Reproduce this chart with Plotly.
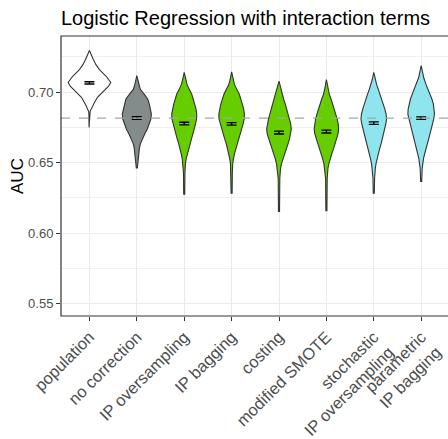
import plotly.graph_objects as go

categories = ["population", "no correction", "IP oversampling", "IP bagging", "costing",
              "modified SMOTE", "stochastic<br>IP oversampling", "parametric<br>IP bagging"]
fill_colors = ["#FFFFFF", "#838B8B", "#66CD00", "#66CD00", "#66CD00", "#66CD00", "#8EE5EE", "#8EE5EE"]

# violin density profiles: AUC levels (top -> bottom) and half-widths (category units)
auc_population = [0.7294, 0.7264, 0.7229, 0.7194, 0.7159, 0.7112, 0.7089, 0.7068, 0.7040, 0.6996,
                  0.6963, 0.6926, 0.6900, 0.6879, 0.6865, 0.6844, 0.6750]
hw_population = [0, 0.032, 0.085, 0.137, 0.211, 0.353, 0.412, 0.45, 0.40, 0.268,
                 0.169, 0.106, 0.063, 0.042, 0.017, 0.011, 0.008]

auc_nocorr = [0.7117, 0.7089, 0.7054, 0.7019, 0.6984, 0.6949, 0.6914, 0.6879, 0.6844, 0.6809,
              0.6774, 0.6739, 0.6704, 0.6668, 0.6633, 0.6598, 0.6563, 0.6528, 0.6463]
hw_nocorr = [0, 0.021, 0.042, 0.074, 0.158, 0.232, 0.264, 0.285, 0.307, 0.296,
             0.264, 0.222, 0.169, 0.116, 0.074, 0.053, 0.038, 0.025, 0.011]

auc_ipover = [0.7140, 0.7089, 0.7054, 0.7019, 0.6984, 0.6949, 0.6914, 0.6879, 0.6844, 0.6809, 0.6774,
              0.6739, 0.6704, 0.6668, 0.6633, 0.6598, 0.6563, 0.6528, 0.6493, 0.6423, 0.6276]
hw_ipover = [0, 0.032, 0.059, 0.106, 0.159, 0.19, 0.222, 0.249, 0.264, 0.26, 0.239,
             0.211, 0.18, 0.148, 0.116, 0.085, 0.063, 0.042, 0.025, 0.015, 0.011]

auc_ipbag = [0.7143, 0.7089, 0.7054, 0.7019, 0.6984, 0.6949, 0.6914, 0.6879, 0.6844, 0.6809, 0.6774,
             0.6739, 0.6704, 0.6668, 0.6633, 0.6598, 0.6563, 0.6528, 0.6493, 0.6423, 0.6283]
hw_ipbag = [0, 0.030, 0.060, 0.110, 0.162, 0.195, 0.228, 0.255, 0.270, 0.266, 0.243,
            0.213, 0.180, 0.146, 0.112, 0.082, 0.060, 0.040, 0.024, 0.015, 0.011]

auc_costing = [0.7077, 0.7019, 0.6984, 0.6949, 0.6914, 0.6879, 0.6844, 0.6809, 0.6774, 0.6739,
               0.6704, 0.6668, 0.6633, 0.6598, 0.6563, 0.6528, 0.6493, 0.6458, 0.6388, 0.6155]
hw_costing = [0, 0.038, 0.063, 0.099, 0.133, 0.165, 0.194, 0.222, 0.247, 0.26,
              0.249, 0.222, 0.19, 0.152, 0.116, 0.08, 0.053, 0.032, 0.017, 0.011]

auc_smote = [0.7089, 0.7019, 0.6984, 0.6949, 0.6914, 0.6879, 0.6844, 0.6809, 0.6774, 0.6739,
             0.6704, 0.6668, 0.6633, 0.6598, 0.6563, 0.6528, 0.6493, 0.6458, 0.6388, 0.6159]
hw_smote = [0, 0.036, 0.062, 0.100, 0.136, 0.170, 0.200, 0.228, 0.250, 0.258,
            0.245, 0.218, 0.186, 0.150, 0.114, 0.080, 0.053, 0.032, 0.017, 0.011]

auc_stoch = [0.7140, 0.7089, 0.7054, 0.7019, 0.6984, 0.6949, 0.6914, 0.6879, 0.6844, 0.6809, 0.6774,
             0.6739, 0.6704, 0.6668, 0.6633, 0.6598, 0.6563, 0.6528, 0.6493, 0.6458, 0.6388, 0.6283]
hw_stoch = [0, 0.032, 0.059, 0.095, 0.133, 0.169, 0.205, 0.233, 0.26, 0.27, 0.254,
            0.233, 0.211, 0.186, 0.154, 0.123, 0.095, 0.07, 0.047, 0.032, 0.017, 0.011]

auc_param = [0.7187, 0.7145, 0.7103, 0.7054, 0.7019, 0.6984, 0.6949, 0.6914, 0.6879, 0.6844, 0.6809,
             0.6774, 0.6739, 0.6704, 0.6668, 0.6633, 0.6598, 0.6563, 0.6528, 0.6493, 0.6458, 0.6367]
hw_param = [0, 0.027, 0.053, 0.101, 0.148, 0.19, 0.228, 0.258, 0.275, 0.281, 0.264,
            0.233, 0.211, 0.186, 0.159, 0.127, 0.101, 0.074, 0.049, 0.032, 0.021, 0.011]

profiles_auc = [auc_population, auc_nocorr, auc_ipover, auc_ipbag, auc_costing, auc_smote, auc_stoch, auc_param]
profiles_hw = [hw_population, hw_nocorr, hw_ipover, hw_ipbag, hw_costing, hw_smote, hw_stoch, hw_param]

means = [0.7065, 0.6816, 0.6777, 0.6775, 0.6713, 0.6720, 0.6780, 0.6815]
se = [0.0008, 0.0009, 0.0009, 0.0009, 0.0010, 0.0010, 0.0009, 0.0009]
reference_auc = 0.6816

fig = go.Figure()
positions = list(range(1, len(categories) + 1))
for pos, a, h, col in zip(positions, profiles_auc, profiles_hw, fill_colors):
    xs = [pos + w for w in h] + [pos - w for w in reversed(h)]
    ys = list(a) + list(reversed(a))
    fig.add_trace(go.Scatter(x=xs, y=ys, mode="lines", fill="toself", fillcolor=col,
                             line=dict(color="#333333", width=1.1), hoverinfo="skip",
                             showlegend=False))

fig.add_trace(go.Scatter(x=positions, y=means, mode="markers",
                         marker=dict(size=1, color="rgba(0,0,0,0)"),
                         error_y=dict(type="data", array=se, visible=True, color="black",
                                      thickness=1.3, width=5),
                         showlegend=False))

fig.add_shape(type="line", xref="paper", yref="y", x0=0, x1=1, y0=reference_auc, y1=reference_auc,
              line=dict(color="#A6A6A6", width=1.2, dash="dash"), layer="above")
fig.add_shape(type="rect", xref="paper", yref="paper", x0=0, x1=1.02, y0=0, y1=1,
              line=dict(color="#333333", width=1.2), layer="above")

fig.update_layout(
    width=448, height=439,
    margin=dict(l=61, r=0, t=36, b=120),
    paper_bgcolor="white", plot_bgcolor="white",
    font=dict(family="Liberation Sans, Arial, sans-serif", color="#4D4D4D"),
    title=dict(text="Logistic Regression with interaction terms", x=0, xref="paper",
               xanchor="left", y=1, yref="container", yanchor="top", pad=dict(t=11),
               font=dict(size=20, color="black")),
    xaxis=dict(range=[0.4, 8.566], tickmode="array", tickvals=positions, ticktext=categories,
               tickangle=-45, tickfont=dict(size=16.5, color="#4D4D4D"),
               showgrid=True, gridcolor="#EBEBEB", gridwidth=1, zeroline=False,
               ticks="outside", ticklen=4, tickcolor="#333333", showline=False),
    yaxis=dict(range=[0.5414, 0.7397], tickvals=[0.55, 0.60, 0.65, 0.70],
               ticktext=["0.55", "0.60", "0.65", "0.70"], tickfont=dict(size=13, color="#4D4D4D"),
               showgrid=True, gridcolor="#EBEBEB", gridwidth=1, zeroline=False,
               minor=dict(tickvals=[0.575, 0.625, 0.675, 0.725], showgrid=True,
                          gridcolor="#F0F0F0", gridwidth=0.7, ticks=""),
               ticks="outside", ticklen=4, tickcolor="#333333", showline=False,
               title=dict(text="AUC", font=dict(size=17, color="black"), standoff=0)),
)

fig.write_html("out.html")
